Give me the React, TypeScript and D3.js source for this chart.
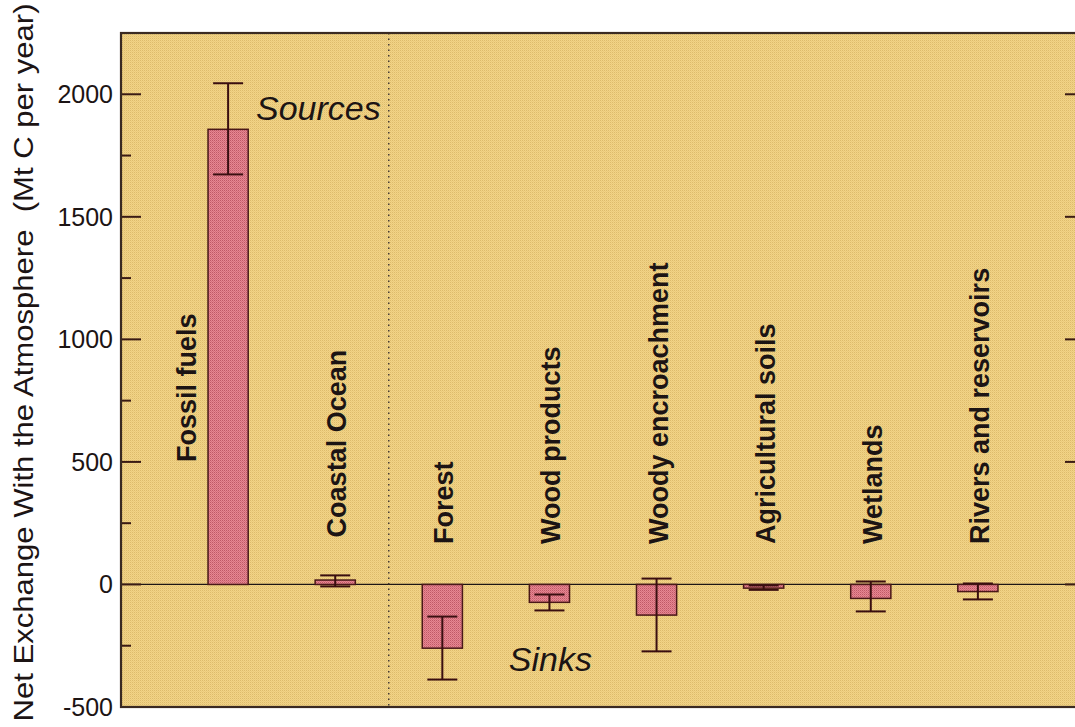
import React from "react";
import * as d3 from "d3";

const categories = [
  "Fossil fuels",
  "Coastal Ocean",
  "Forest",
  "Wood products",
  "Woody encroachment",
  "Agricultural soils",
  "Wetlands",
  "Rivers and reservoirs",
];
const values = [1857, 18, -260, -73, -125, -15, -57, -29];
const errLow = [1673, -8, -388, -106, -273, -22, -110, -61];
const errHigh = [2045, 37, -131, -41, 24, -4, 12, 4];
const majorTicks = [-500, 0, 500, 1000, 1500, 2000];
const minorTicks = [-250, 250, 750, 1250, 1750, 2250];
const yTitle = "Net Exchange With the Atmosphere \u00A0(Mt C per year)";

const W = 1075;
const H = 727;
const L = 121;
const R = 1085;
const T = 33;
const B = 707;

export default function App() {
  const x = d3.scaleLinear().domain([0, categories.length + 1]).range([L, R]);
  const y = d3.scaleLinear().domain([-500, 2250]).range([B, T]);
  const step = x(1) - x(0);
  const barW = step * 0.375;
  const capW = 30;
  const font = "'Liberation Sans', Arial, Helvetica, sans-serif";
  const ink = "#1c1414";
  const divider = x(2.5);

  return (
    <svg
      width={W}
      height={H}
      style={{ position: "absolute", left: 0, top: 0, background: "#fff" }}
      fontFamily={font}
    >
      <defs>
        <pattern id="bg" width="2" height="2" patternUnits="userSpaceOnUse">
          <rect width="2" height="2" fill="#F2D487" />
          <rect width="1" height="1" fill="#DDBB6C" />
          <rect x="1" y="1" width="1" height="1" fill="#EACA7C" />
        </pattern>
        <pattern id="bar" width="2" height="2" patternUnits="userSpaceOnUse">
          <rect width="2" height="2" fill="#E68893" />
          <rect width="1" height="1" fill="#C05866" />
          <rect x="1" y="1" width="1" height="1" fill="#D56E7B" />
        </pattern>
        <clipPath id="plot">
          <rect x={L} y={T} width={R - L} height={B - T} />
        </clipPath>
      </defs>

      <rect x={L} y={T} width={R - L} height={B - T} fill="url(#bg)" />

      <g clipPath="url(#plot)">
        <line x1={L} x2={R} y1={y(0)} y2={y(0)} stroke={ink} strokeWidth={1.3} />
        <line
          x1={divider}
          x2={divider}
          y1={T}
          y2={B}
          stroke="#3a3030"
          strokeWidth={1.4}
          strokeDasharray="1.5 4"
        />

        {values.map((v, i) => {
          const cx = x(i + 1);
          const y0 = y(Math.max(0, v));
          const y1 = y(Math.min(0, v));
          return (
            <rect
              key={"b" + i}
              x={cx - barW / 2}
              y={y0}
              width={barW}
              height={Math.max(1, y1 - y0)}
              fill="url(#bar)"
              stroke="#4a1818"
              strokeWidth={1.5}
            />
          );
        })}

        {values.map((v, i) => {
          const cx = x(i + 1);
          return (
            <g key={"e" + i} stroke="#3a0e10" strokeWidth={2}>
              <line x1={cx} x2={cx} y1={y(errLow[i])} y2={y(errHigh[i])} />
              <line x1={cx - capW / 2} x2={cx + capW / 2} y1={y(errLow[i])} y2={y(errLow[i])} />
              <line x1={cx - capW / 2} x2={cx + capW / 2} y1={y(errHigh[i])} y2={y(errHigh[i])} />
            </g>
          );
        })}

        {categories.map((c, i) => {
          const cx = i === 0 ? x(i + 1) - 41 : x(i + 1) + 2;
          const startVal = i === 0 ? 500 : i === 1 ? 192 : 165;
          const sy = y(startVal);
          return (
            <text
              key={"l" + i}
              transform={`translate(${cx + 9},${sy}) rotate(-90)`}
              fontSize={27}
              fontWeight="bold"
              fill={ink}
            >
              {c}
            </text>
          );
        })}

        <text
          x={divider - 8}
          y={y(1895)}
          textAnchor="end"
          fontSize={34}
          fontStyle="italic"
          fill={ink}
        >
          Sources
        </text>
        <text x={divider + 120} y={y(-355)} fontSize={34} fontStyle="italic" fill={ink}>
          Sinks
        </text>

        {majorTicks.map((t) => (
          <g key={"mt" + t} stroke="#3a1a14" strokeWidth={2}>
            <line x1={L} x2={L + 20} y1={y(t)} y2={y(t)} />
            <line x1={R - 20} x2={R} y1={y(t)} y2={y(t)} />
          </g>
        ))}
        {minorTicks.map((t) => (
          <g key={"nt" + t} stroke="#3a1a14" strokeWidth={2}>
            <line x1={L} x2={L + 10} y1={y(t)} y2={y(t)} />
            <line x1={R - 10} x2={R} y1={y(t)} y2={y(t)} />
          </g>
        ))}
      </g>

      <rect
        x={L}
        y={T}
        width={R - L}
        height={B - T}
        fill="none"
        stroke="#3a2a22"
        strokeWidth={2.2}
      />

      {majorTicks.map((t) => (
        <text
          key={"tl" + t}
          x={L - 8}
          y={y(t)}
          dy="0.36em"
          textAnchor="end"
          fontSize={25}
          fill={ink}
        >
          {t}
        </text>
      ))}

      <text
        transform={`translate(33,${(H - 2) / 2}) rotate(-90)`}
        textAnchor="middle"
        fontSize={28}
        fill={ink}
        textLength={718}
        lengthAdjust="spacingAndGlyphs"
      >
        {yTitle}
      </text>
    </svg>
  );
}
